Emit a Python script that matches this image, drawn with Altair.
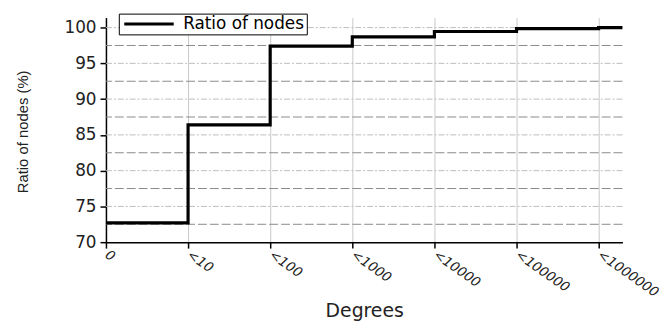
import json
import altair as alt
import pandas as pd

# ---- data ----
degree_labels = ["0", "<10", "<100", "<1000", "<10000", "<100000", "<1000000"]
degree_pos = [0, 1, 2, 3, 4, 5, 6]
ratio_pct = [72.7, 86.4, 97.4, 98.7, 99.45, 99.85, 100.0]
x_max = 6.29
y_min, y_max = 70, 101.4
y_ticks = [70, 75, 80, 85, 90, 95, 100]
major_grid = [75, 80, 85, 90, 95, 100]
minor_grid = [72.5, 77.5, 82.5, 87.5, 92.5, 97.5]
series_name = "Ratio of nodes"

line_df = pd.DataFrame({
    "x": degree_pos + [x_max],
    "y": ratio_pct + [ratio_pct[-1]],
    "series": [series_name] * (len(degree_pos) + 1),
})
major_df = pd.DataFrame({"y": major_grid})
minor_df = pd.DataFrame({"y": minor_grid})

label_expr = json.dumps(degree_labels) + "[datum.value]"

x_scale = alt.Scale(domain=[0, x_max], nice=False, zero=False)
y_scale = alt.Scale(domain=[y_min, y_max], nice=False, zero=False)

x_axis = alt.Axis(
    values=degree_pos, labelExpr=label_expr, title="Degrees",
    grid=True, gridColor="#c8c8c8", gridWidth=1,
    domainColor="black", domainWidth=1.5, tickColor="black", tickWidth=1.5, tickSize=6,
    labelAngle=35, labelAlign="left", labelBaseline="middle", labelPadding=5,
    labelFont="DejaVu Sans", labelFontSize=13.5, labelFontStyle="italic", labelColor="#222",
    titleFont="DejaVu Sans", titleFontSize=19, titleFontWeight="normal", titleColor="#222",
    titleX=261, titleY=69, titleBaseline="middle", titleAlign="center",
)
y_axis = alt.Axis(
    values=y_ticks, title="Ratio of nodes (%)", grid=False,
    domainColor="black", domainWidth=1.5, tickColor="black", tickWidth=1.5, tickSize=6,
    labelFont="DejaVu Sans", labelFontSize=17, labelColor="#222", labelPadding=4,
    titleFont="Liberation Sans", titleFontSize=15, titleFontWeight="normal", titleColor="#222",
    titleAngle=-90, titleX=-84, titleY=115, titleAlign="center", titleBaseline="middle",
)

minor = alt.Chart(minor_df).mark_rule(color="#8a8a8a", strokeWidth=1, strokeDash=[9, 3]).encode(
    y=alt.Y("y:Q", scale=y_scale, axis=y_axis)
)
major = alt.Chart(major_df).mark_rule(color="#bdbdbd", strokeWidth=1, strokeDash=[6, 2, 2, 2]).encode(
    y=alt.Y("y:Q", scale=y_scale, axis=y_axis)
)

line = alt.Chart(line_df).mark_line(interpolate="step-after", strokeWidth=3.2).encode(
    x=alt.X("x:Q", scale=x_scale, axis=x_axis),
    y=alt.Y("y:Q", scale=y_scale, axis=y_axis),
    color=alt.Color(
        "series:N",
        scale=alt.Scale(range=["black"]),
        legend=alt.Legend(
            title=None, orient="none", legendX=13, legendY=-4,
            strokeColor="black", fillColor="white", padding=2,
            symbolType="M-5,0H5", symbolSize=100, symbolStrokeWidth=3,
            symbolOffset=20, labelOffset=26,
            labelFont="DejaVu Sans", labelFontSize=17, labelColor="black",
        ),
    ),
)

chart = alt.layer(minor, major, line).properties(
    width=522, height=227,
    autosize=alt.AutoSizeParams(type="none"),
    padding={"left": 99, "top": 8, "right": 42, "bottom": 79},
    background="white",
).configure_view(stroke=None)

chart.save("out.html", embed_options={"renderer": "svg", "actions": False})
